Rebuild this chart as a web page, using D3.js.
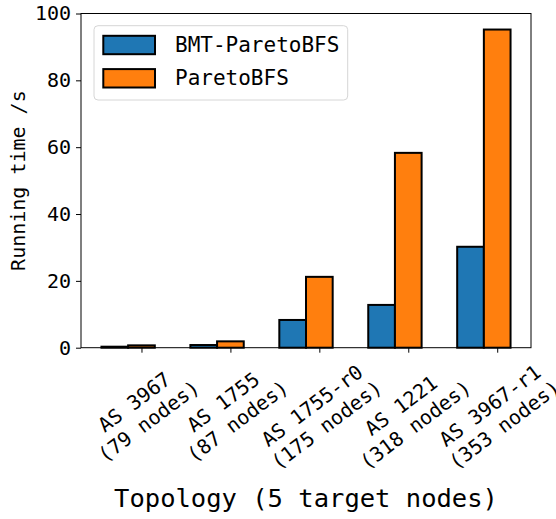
<!DOCTYPE html>
<html>
<head>
<meta charset="utf-8">
<script src="https://cdn.jsdelivr.net/npm/d3@7"></script>
<style>
  html, body { margin: 0; padding: 0; background: #fff; }
  svg { display: block; }
  text { font-family: "DejaVu Sans Mono", monospace; fill: #000; }
</style>
</head>
<body>
<svg id="chart" width="556" height="519"></svg>
<script>
// Topologies on the x axis (two-line labels)
const topologies = ["AS 3967", "AS 1755", "AS 1755-r0", "AS 1221", "AS 3967-r1"];
const nodeCounts = ["(79 nodes)", "(87 nodes)", "(175 nodes)", "(318 nodes)", "(353 nodes)"];

// Running time in seconds for each algorithm
const seriesNames = ["BMT-ParetoBFS", "ParetoBFS"];
const bmtParetoBFS = [0.3, 0.8, 8.3, 12.8, 30.2];
const paretoBFS = [0.7, 1.9, 21.2, 58.3, 95.2];
const seriesColors = ["#1f77b4", "#ff7f0e"];

const yTicks = [0, 20, 40, 60, 80, 100];

const svg = d3.select("#chart");
const margin = { left: 81, right: 25, top: 13.5, bottom: 171.3 };
const W = 556, H = 519;
const plotW = W - margin.left - margin.right;
const plotH = H - margin.top - margin.bottom;

// Bars are one unit apart; width 0.3, blue shifted left by 0.3
const barW = 0.3;
const xDomain = [-0.45, 4.15];
const pad = (xDomain[1] - xDomain[0]) * 0.05;
const x = d3.scaleLinear()
  .domain([xDomain[0] - pad, xDomain[1] + pad])
  .range([margin.left, margin.left + plotW]);
const y = d3.scaleLinear().domain([0, 100]).range([margin.top + plotH, margin.top]);

const series = [bmtParetoBFS, paretoBFS];
const offsets = [-0.3, 0];

// Bars
series.forEach((vals, si) => {
  svg.append("g").selectAll("rect")
    .data(vals)
    .join("rect")
    .attr("x", (d, i) => x(i + offsets[si] - barW / 2))
    .attr("width", (d, i) => x(i + offsets[si] + barW / 2) - x(i + offsets[si] - barW / 2))
    .attr("y", d => y(d))
    .attr("height", d => y(0) - y(d))
    .attr("fill", seriesColors[si])
    .attr("stroke", "#000")
    .attr("stroke-width", 2);
});

// Frame
svg.append("rect")
  .attr("x", margin.left).attr("y", margin.top)
  .attr("width", plotW).attr("height", plotH)
  .attr("fill", "none").attr("stroke", "#000").attr("stroke-width", 1);

// Y axis
const yAxis = d3.axisLeft(y).tickValues(yTicks).tickSize(5).tickPadding(5);
const gy = svg.append("g").attr("transform", `translate(${margin.left},0)`).call(yAxis);
gy.select(".domain").remove();
gy.selectAll(".tick line").attr("stroke", "#000");
gy.selectAll(".tick text")
  .style("font-family", '"DejaVu Sans Mono", monospace')
  .style("font-size", "20px");

// X axis ticks
const xAxis = d3.axisBottom(x).tickValues(d3.range(topologies.length)).tickSize(5).tickFormat("");
const gx = svg.append("g").attr("transform", `translate(0,${margin.top + plotH})`).call(xAxis);
gx.select(".domain").remove();
gx.selectAll(".tick line").attr("stroke", "#000");

// Rotated two-line tick labels, bounding box centred under each tick
const angle = 37;
const rad = angle * Math.PI / 180;
const lineGap = 24;
const labelTop = margin.top + plotH + 5 + 3.5;
topologies.forEach((t, i) => {
  const g = svg.append("g");
  const txt = g.append("text")
    .attr("text-anchor", "middle")
    .attr("dominant-baseline", "central")
    .style("font-size", "20px");
  txt.append("tspan").attr("x", 0).attr("y", -lineGap / 2).text(t);
  txt.append("tspan").attr("x", 0).attr("y", lineGap / 2).text(nodeCounts[i]);
  const w = Math.max(...txt.selectAll("tspan").nodes().map(n => n.getComputedTextLength()));
  const h = lineGap * 2;
  const boxH = w * Math.sin(rad) + h * Math.cos(rad);
  g.attr("transform", `translate(${x(i)},${labelTop + boxH / 2}) rotate(${-angle})`);
});

// Axis titles
svg.append("text")
  .attr("transform", `translate(18,${margin.top + plotH / 2}) rotate(-90)`)
  .attr("text-anchor", "middle")
  .attr("dominant-baseline", "central")
  .style("font-size", "20px")
  .text("Running time /s");

svg.append("text")
  .attr("x", margin.left + plotW / 2)
  .attr("y", 507)
  .attr("text-anchor", "middle")
  .style("font-size", "25.5px")
  .text("Topology (5 target nodes)");

// Legend
const lg = svg.append("g");
lg.append("rect")
  .attr("x", 94).attr("y", 25.7).attr("width", 253.7).attr("height", 74.3)
  .attr("rx", 4)
  .attr("fill", "#fff").attr("fill-opacity", 0.8)
  .attr("stroke", "#d6d6d6").attr("stroke-width", 1);
seriesNames.forEach((name, i) => {
  const cy = 45 + i * 33.3;
  lg.append("rect")
    .attr("x", 103.3).attr("y", cy - 9.2).attr("width", 51.7).attr("height", 18.4)
    .attr("fill", seriesColors[i]).attr("stroke", "#000").attr("stroke-width", 2);
  lg.append("text")
    .attr("x", 175).attr("y", cy)
    .attr("dominant-baseline", "central")
    .style("font-size", "21px")
    .text(name);
});
</script>
</body>
</html>
